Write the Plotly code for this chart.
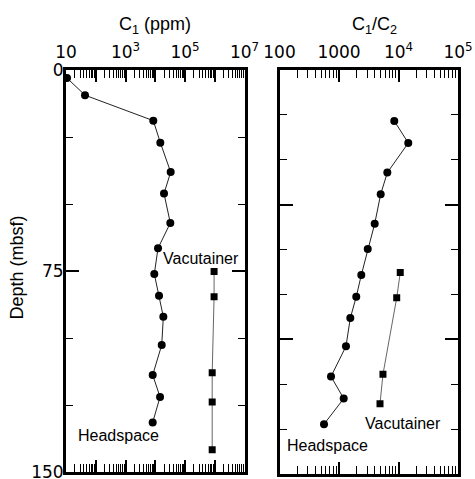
import numpy as np
import plotly.graph_objects as go

# Depth of samples (mbsf)
hs_depth = [3.0, 9.4, 18.9, 27.1, 38.1, 46.1, 57.1, 66.5, 76.1, 84.2, 92.1, 102.6, 113.8, 122.0, 131.5]
vac_depth = [75.2, 84.6, 113.0, 123.9, 141.7]

# Methane concentration (ppm)
hs_c1 = [10.8, 43.5, 8590, 14800, 33000, 19700, 32100, 12400, 9290, 13400, 18700, 16500, 8200, 14500, 8200]
vac_c1 = [950000, 950000, 820000, 820000, 820000]

# Methane / ethane ratio (no ethane in the two shallowest headspace samples)
hs_ratio_depth = hs_depth[2:]
hs_ratio = [8490, 14600, 6490, 5020, 3980, 3040, 2370, 1950, 1550, 1310, 734, 1200, 560]
vac_ratio_depth = vac_depth[:4]
vac_ratio = [10700, 9330, 5480, 4890]

# Axis tick labels
c1_tickvals = [1e1, 1e2, 1e3, 1e4, 1e5, 1e6, 1e7]
c1_ticktext = ["10", "", "10<sup>3</sup>", "", "10<sup>5</sup>", "", "10<sup>7</sup>"]
ratio_tickvals = [1e2, 1e3, 1e4, 1e5]
ratio_ticktext = ["100", "1000", "10<sup>4</sup>", "10<sup>5</sup>"]

W, H = 475, 479
FONT = "Liberation Sans, Arial, sans-serif"
TICK_FONT = dict(family="DejaVu Sans, Liberation Sans, sans-serif", size=17, color="black")


def minor_log(lo, hi):
    return [m * 10 ** d for d in range(lo, hi) for m in range(2, 10)]


fig = go.Figure()

hs_line = dict(color="#222222", width=1)
vac_line = dict(color="#666666", width=1)
circ = dict(symbol="circle", size=8, color="black")
sq = dict(symbol="square", size=7, color="black")

fig.add_trace(go.Scatter(x=hs_c1, y=hs_depth, mode="lines+markers", line=hs_line, marker=circ,
                         xaxis="x", yaxis="y", showlegend=False))
fig.add_trace(go.Scatter(x=vac_c1, y=vac_depth, mode="lines+markers", line=vac_line, marker=sq,
                         xaxis="x", yaxis="y", showlegend=False))
fig.add_trace(go.Scatter(x=hs_ratio, y=hs_ratio_depth, mode="lines+markers", line=hs_line, marker=circ,
                         xaxis="x2", yaxis="y2", showlegend=False))
fig.add_trace(go.Scatter(x=vac_ratio, y=vac_ratio_depth, mode="lines+markers", line=vac_line, marker=sq,
                         xaxis="x2", yaxis="y2", showlegend=False))

x_common = dict(type="log", side="top", showgrid=False, zeroline=False, automargin=False,
                showline=True, linewidth=3, linecolor="black", mirror="ticks",
                ticks="inside", ticklen=12, tickwidth=1.5, tickcolor="black",
                tickmode="array", tickfont=TICK_FONT, ticklabeloverflow="allow",
                ticklabelstandoff=2)
y_common = dict(autorange=False, showgrid=False, zeroline=False, automargin=False,
                showline=True, linewidth=3, linecolor="black", mirror="ticks",
                ticks="inside", ticklen=13, tickwidth=1.5, tickcolor="black",
                tickfont=TICK_FONT, ticklabeloverflow="allow")

px_x = lambda p: p / W
px_y = lambda p: 1 - p / H

fig.update_layout(
    width=W, height=H,
    margin=dict(l=0, r=0, t=0, b=0, autoexpand=False),
    paper_bgcolor="white", plot_bgcolor="white",
    font=dict(family=FONT, size=17, color="black"),
    xaxis=dict(x_common, domain=[px_x(66), px_x(244.5)], range=[1, 7], anchor="y",
               tickvals=c1_tickvals, ticktext=c1_ticktext,
               minor=dict(tickmode="array", tickvals=minor_log(1, 7), ticks="inside",
                          ticklen=8, tickwidth=1.2, tickcolor="black", showgrid=False)),
    yaxis=dict(y_common, domain=[px_y(472), px_y(70)], range=[150, 0], anchor="x",
               tickmode="linear", tick0=0, dtick=75, ticklabelstandoff=-4,
               minor=dict(dtick=25, tick0=0, ticks="inside", ticklen=7, tickwidth=1.2,
                          tickcolor="black", showgrid=False)),
    xaxis2=dict(x_common, domain=[px_x(279.5), px_x(458)], range=[2, 5], anchor="y2",
                tickvals=ratio_tickvals, ticktext=ratio_ticktext,
                minor=dict(tickmode="array", tickvals=minor_log(2, 5), ticks="inside",
                           ticklen=8, tickwidth=1.2, tickcolor="black", showgrid=False)),
    yaxis2=dict(y_common, domain=[px_y(474), px_y(70)], range=[150, 0], anchor="x2",
                tickmode="linear", tick0=0, dtick=50, showticklabels=False,
                minor=dict(dtick=50 / 3, tick0=0, ticks="inside", ticklen=7, tickwidth=1.2,
                           tickcolor="black", showgrid=False)),
)

ann_font = dict(family=FONT, size=16, color="black")
title_font = dict(family=FONT, size=18, color="black")
annotations = [
    dict(text="C<sub>1</sub> (ppm)", xref="paper", yref="paper", x=px_x(155), y=px_y(25),
         xanchor="center", yanchor="middle", showarrow=False, font=title_font),
    dict(text="C<sub>1</sub>/C<sub>2</sub>", xref="paper", yref="paper", x=px_x(374), y=px_y(25),
         xanchor="center", yanchor="middle", showarrow=False, font=title_font),
    dict(text="Depth (mbsf)", xref="paper", yref="paper", x=px_x(16.5), y=px_y(268),
         xanchor="center", yanchor="middle", textangle=-90, showarrow=False, font=title_font),
    dict(text="Vacutainer", xref="x", yref="y", x=5.545, y=70.5, showarrow=False, font=ann_font),
    dict(text="Headspace", xref="x", yref="y", x=2.77, y=136.2, showarrow=False, font=ann_font),
    dict(text="Vacutainer", xref="x2", yref="y2", x=4.076, y=131.1, showarrow=False, font=ann_font),
    dict(text="Headspace", xref="x2", yref="y2", x=2.815, y=139.3, showarrow=False, font=ann_font),
]
fig.update_layout(annotations=annotations)

fig.write_html("out.html")
